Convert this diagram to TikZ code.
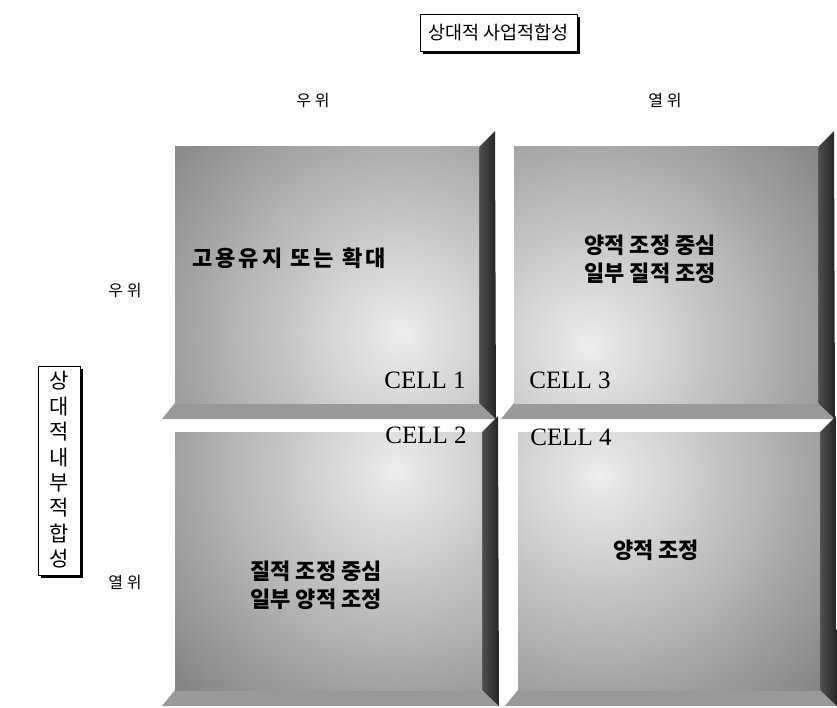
\documentclass[tikz,border=0pt]{standalone}
\usepackage{fontspec}
\setmainfont{Liberation Serif}
\newfontfamily\kr{Noto Sans CJK KR}
\newfontfamily\krwide{Noto Sans CJK KR}[LetterSpace=14]
\definecolor{facegray}{gray}{0.50}
\definecolor{facelight}{gray}{0.93}
\definecolor{bevdark}{gray}{0.14}
\definecolor{bevgray}{gray}{0.60}
\newcommand\mypanel[6]{%
  \fill[bevgray] (#1,#4) -- ({#1-13},{#4+16}) -- ({#3+17},{#4+16}) -- (#3,#4) -- cycle;
  \shade[left color=bevdark!80!white, right color=bevdark] (#3,#2) -- ({#3+16},{#2-16}) -- ({#3+17},{#4+16}) -- (#3,#4) -- cycle;
  \begin{scope}
    \clip (#1,#2) rectangle (#3,#4);
    \fill[facegray] (#1,#2) rectangle (#3,#4);
    \shade[inner color=facelight, outer color=facegray] (#5,#6) circle (320);
  \end{scope}}
\tikzset{
  krlabel/.style={font=\kr\fontsize{16}{18}\selectfont},
  krbold/.style={font=\kr\bfseries\fontsize{22}{28}\selectfont, align=center},
  celltag/.style={font=\fontsize{25}{28}\selectfont},
  shadowbox/.style={draw=black, line width=0.9pt, fill=white, inner sep=0pt}
}
\begin{document}
\begin{tikzpicture}[x=1pt,y=-1pt]
\useasboundingbox (0,0) rectangle (837,708);
% panels
\mypanel{175}{147}{479}{403}{400}{335}
\mypanel{514}{147}{818}{403}{590}{345}
\mypanel{175}{432}{482}{690}{395}{470}
\mypanel{518}{432}{820}{690}{600}{475}
% title box
\fill[black] (423,17) rectangle (580,54);
\draw[shadowbox] (420,14) rectangle (577,51);
\node[font=\kr\fontsize{18.5}{20}\selectfont] (title) at (498.5,33) {상대적 사업적합성};
% vertical box
\fill[black] (41,369) rectangle (83,578);
\draw[shadowbox] (38,366) rectangle (80,575);
\node[font=\kr\fontsize{21}{25.4}\selectfont, align=center] (vlabel) at (59,470) {상\\대\\적\\내\\부\\적\\합\\성};
% axis labels
\node[krlabel] (colA) at (313,101) {우 위};
\node[krlabel] (colB) at (665,101) {열 위};
\node[krlabel] (rowA) at (125,291) {우 위};
\node[krlabel] (rowB) at (125,583) {열 위};
% cell texts
\node[krbold, font=\krwide\bfseries\fontsize{22}{28}\selectfont] (t1) at (289,258) {고용유지 또는 확대};
\node[krbold] (t3) at (650,259) {양적 조정 중심\\일부 질적 조정};
\node[krbold] (t2) at (316,585) {질적 조정 중심\\일부 양적 조정};
\node[krbold] (t4) at (656,550) {양적 조정};
\node[celltag] (c1) at (425,380) {CELL 1};
\node[celltag] (c3) at (570,380) {CELL 3};
\node[celltag] (c2) at (426,435) {CELL 2};
\node[celltag] (c4) at (571,437) {CELL 4};
\end{tikzpicture}
\end{document}
